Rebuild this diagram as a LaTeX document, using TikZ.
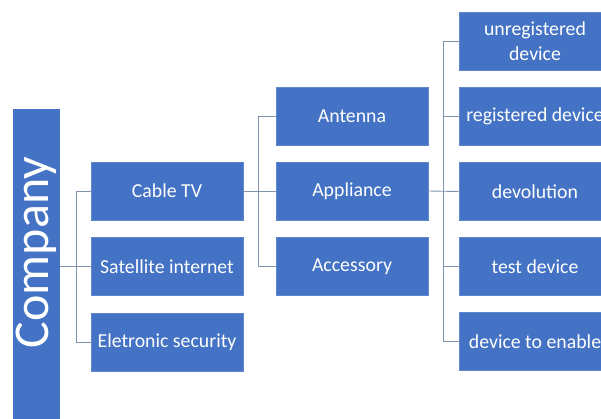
\documentclass[tikz,border=0pt]{standalone}
\usepackage{fontspec}
\setmainfont{Carlito}
\definecolor{boxblue}{HTML}{4472C4}
\definecolor{linkgray}{HTML}{8093AE}
\begin{document}
\begin{tikzpicture}[x=1pt,y=1pt,
  box/.style={fill=boxblue, draw=boxblue!85!white, line width=0.6pt, text=white,
    minimum width=152pt, minimum height=58pt, inner sep=0pt, align=center,
    font=\fontsize{19.8}{25}\selectfont},
  link/.style={draw=linkgray, line width=0.9pt}]
\useasboundingbox (0,0) rectangle (601,418);
\clip (0,0) rectangle (601,418);

% root bar, running off the bottom edge
\node[fill=boxblue, minimum width=47pt, minimum height=330pt, inner sep=0pt]
  (company) at (36.5,144) {};
\node[rotate=90, text=white, font=\fontsize{50}{50}\selectfont, inner sep=0pt]
  (companytxt) at (36.5,165.5) {Company};

% first level
\node[box] (cable) at (167,227) {Cable TV};
\node[box] (sat)   at (167,151.5) {Satellite internet};
\node[box] (elec)  at (167,76) {Eletronic security};

% second level
\node[box] (ant)  at (352,301.5) {Antenna};
\node[box] (appl) at (352,227) {Appliance};
\node[box] (acc)  at (352,151.5) {Accessory};

% third level
\node[box] (unreg)  at (535,377) {unregistered\\device};
\node[box] (reg)    at (535,301.5) {registered device};
\node[box] (devo)   at (535,226.5) {devolution};
\node[box] (test)   at (535,151.5) {test device};
\node[box] (enable) at (535,76.5) {device to enable};

% connectors
\draw[link] (company.east |- sat.west) -- (sat.west);
\draw[link] (cable.west) -- ++(-14,0) coordinate (j1) |- (elec.west);

\draw[link] (cable.east) -- (appl.west);
\draw[link] (ant.west) -- ++(-17,0) coordinate (j2) |- (acc.west);

\draw[link] (appl.east) -- (devo.west);
\draw[link] (unreg.west) -- ++(-15,0) coordinate (j3) |- (enable.west);
\draw[link] (j3 |- reg.west) -- (reg.west);
\draw[link] (j3 |- test.west) -- (test.west);
\end{tikzpicture}
\end{document}
